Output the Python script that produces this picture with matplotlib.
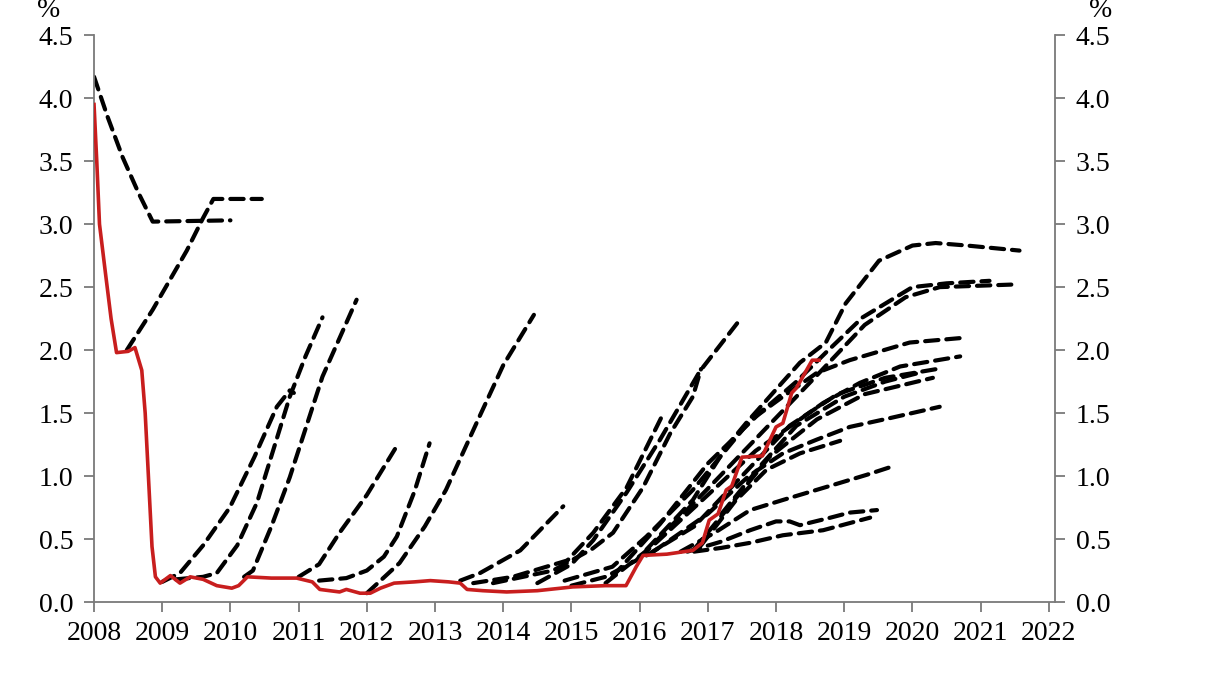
import matplotlib.pyplot as plt

# effective fed funds rate (red line)
ffr_year = [2008.0, 2008.04, 2008.08, 2008.17, 2008.25, 2008.33, 2008.5, 2008.6, 2008.7,
            2008.75, 2008.85, 2008.9, 2008.97, 2009.12, 2009.26, 2009.41, 2009.6, 2009.8,
            2010.02, 2010.12, 2010.25, 2010.6, 2010.97, 2011.2, 2011.31, 2011.6, 2011.7,
            2011.9, 2012.05, 2012.2, 2012.4, 2012.7, 2012.93, 2013.2, 2013.37, 2013.47,
            2013.7, 2014.05, 2014.5, 2015.02, 2015.5, 2015.8, 2015.95, 2016.05, 2016.4,
            2016.78, 2016.92, 2017.02, 2017.15, 2017.27, 2017.35, 2017.5, 2017.8, 2018.0,
            2018.1, 2018.23, 2018.3, 2018.53, 2018.63]
ffr_rate = [3.95, 3.5, 3.0, 2.6, 2.25, 1.98, 1.99, 2.02, 1.84,
            1.5, 0.44, 0.2, 0.15, 0.21, 0.15, 0.2, 0.18, 0.13,
            0.11, 0.13, 0.2, 0.19, 0.19, 0.16, 0.1, 0.08, 0.1,
            0.07, 0.07, 0.11, 0.15, 0.16, 0.17, 0.16, 0.15, 0.1,
            0.09, 0.08, 0.09, 0.12, 0.13, 0.13, 0.28, 0.37, 0.38,
            0.41, 0.47, 0.65, 0.7, 0.89, 0.92, 1.15, 1.16, 1.39,
            1.42, 1.66, 1.7, 1.92, 1.92]

# market-implied forward paths (dashed lines), (year, %) pairs
fwd_01 = [(2008.0, 4.17), (2008.2, 3.85), (2008.42, 3.53), (2008.65, 3.25), (2008.86, 3.02), (2010.0, 3.03)]
fwd_02 = [(2008.48, 2.0), (2008.86, 2.32), (2009.36, 2.79), (2009.6, 3.05), (2009.75, 3.2), (2010.46, 3.2)]
fwd_03 = [(2009.0, 0.16), (2009.26, 0.23), (2009.6, 0.45), (2009.99, 0.75), (2010.35, 1.15),
          (2010.68, 1.55), (2010.87, 1.68), (2010.93, 1.66)]
fwd_04 = [(2009.2, 0.18), (2009.6, 0.2), (2009.8, 0.23), (2010.1, 0.45), (2010.39, 0.79),
          (2010.87, 1.63), (2011.1, 1.95), (2011.35, 2.26)]
fwd_05 = [(2010.2, 0.2), (2010.33, 0.25), (2010.6, 0.6), (2010.87, 0.99), (2011.35, 1.79), (2011.85, 2.4)]
fwd_06 = [(2011.0, 0.2), (2011.3, 0.3), (2011.6, 0.55), (2012.0, 0.85), (2012.43, 1.23)]
fwd_07 = [(2011.3, 0.17), (2011.7, 0.19), (2012.0, 0.25), (2012.25, 0.36), (2012.44, 0.52),
          (2012.7, 0.88), (2012.92, 1.26)]
fwd_08 = [(2012.0, 0.07), (2012.48, 0.31), (2012.85, 0.6), (2013.16, 0.89), (2013.65, 1.47),
          (2014.0, 1.88), (2014.45, 2.28)]
fwd_09 = [(2013.37, 0.17), (2013.66, 0.23), (2014.25, 0.41), (2014.88, 0.76)]
fwd_10 = [(2013.56, 0.15), (2014.14, 0.2), (2014.94, 0.33), (2015.32, 0.55), (2015.81, 0.91), (2016.35, 1.5)]
fwd_11 = [(2013.85, 0.15), (2014.73, 0.25), (2015.3, 0.42), (2015.61, 0.55), (2016.05, 0.91),
          (2016.45, 1.34), (2016.78, 1.63), (2016.9, 1.85)]
fwd_12 = [(2014.5, 0.15), (2015.0, 0.3), (2015.32, 0.49), (2015.81, 0.87), (2016.3, 1.29),
          (2016.88, 1.83), (2017.44, 2.22)]
fwd_13 = [(2015.0, 0.13), (2015.5, 0.2), (2015.95, 0.33), (2016.78, 0.81), (2017.27, 1.23),
          (2017.56, 1.42), (2018.35, 1.9), (2018.73, 2.06), (2019.02, 2.37), (2019.51, 2.71),
          (2020.0, 2.83), (2020.34, 2.85), (2020.8, 2.83), (2021.57, 2.79)]
fwd_14 = [(2015.6, 0.2), (2016.3, 0.62), (2017.0, 1.1), (2017.76, 1.5), (2018.3, 1.75),
          (2018.73, 1.98), (2019.27, 2.26), (2020.0, 2.5), (2020.5, 2.53), (2021.13, 2.55)]
fwd_15 = [(2016.0, 0.35), (2017.0, 0.9), (2017.8, 1.35), (2018.6, 1.8), (2019.3, 2.2),
          (2019.9, 2.42), (2020.4, 2.5), (2021.45, 2.52)]
fwd_16 = [(2014.9, 0.17), (2015.6, 0.28), (2016.1, 0.52), (2016.78, 0.89), (2017.62, 1.44),
          (2018.1, 1.63), (2018.6, 1.82), (2019.08, 1.92), (2019.96, 2.06), (2020.8, 2.1)]
fwd_17 = [(2015.5, 0.15), (2016.2, 0.45), (2017.0, 0.85), (2017.7, 1.2), (2018.69, 1.58),
          (2019.23, 1.74), (2019.82, 1.87), (2020.7, 1.95)]
fwd_18 = [(2016.1, 0.37), (2016.8, 0.6), (2017.5, 1.0), (2018.2, 1.4), (2018.9, 1.65),
          (2019.6, 1.78), (2020.36, 1.85)]
fwd_19 = [(2016.8, 0.42), (2017.3, 0.75), (2017.9, 1.15), (2018.6, 1.45), (2019.3, 1.65), (2020.3, 1.78)]
fwd_20 = [(2017.2, 0.7), (2017.8, 1.1), (2018.3, 1.4), (2019.0, 1.63), (2019.6, 1.75), (2020.1, 1.82)]
fwd_21 = [(2016.2, 0.4), (2017.0, 0.7), (2017.6, 1.0), (2018.1, 1.18), (2018.6, 1.29),
          (2019.08, 1.39), (2019.67, 1.46), (2020.4, 1.55)]
fwd_22 = [(2016.9, 0.45), (2017.4, 0.8), (2017.86, 1.05), (2018.35, 1.18), (2018.94, 1.28)]
fwd_23 = [(2016.6, 0.4), (2017.1, 0.55), (2017.62, 0.73), (2018.1, 0.81), (2018.84, 0.93),
          (2019.33, 1.01), (2019.67, 1.07)]
fwd_24 = [(2016.7, 0.4), (2017.2, 0.48), (2017.62, 0.57), (2018.0, 0.64), (2018.2, 0.64),
          (2018.35, 0.61), (2018.8, 0.67), (2019.08, 0.71), (2019.48, 0.73)]
fwd_25 = [(2016.8, 0.4), (2017.2, 0.43), (2017.62, 0.47), (2018.1, 0.53), (2018.69, 0.57), (2019.38, 0.67)]

forward_paths = [fwd_01, fwd_02, fwd_03, fwd_04, fwd_05, fwd_06, fwd_07, fwd_08, fwd_09,
                 fwd_10, fwd_11, fwd_12, fwd_13, fwd_14, fwd_15, fwd_16, fwd_17, fwd_18,
                 fwd_19, fwd_20, fwd_21, fwd_22, fwd_23, fwd_24, fwd_25]

year_ticks = list(range(2008, 2023))
pct_ticks = [0.0, 0.5, 1.0, 1.5, 2.0, 2.5, 3.0, 3.5, 4.0, 4.5]

plt.rcParams["font.family"] = ["Liberation Serif", "DejaVu Serif"]
grey = "#7a7a7a"

fig = plt.figure(figsize=(12.26, 6.9), dpi=100)
ax = fig.add_axes([0.0767, 0.1275, 0.7838, 0.8215])

for path in forward_paths:
    xs = [p[0] for p in path]
    ys = [p[1] for p in path]
    ax.plot(xs, ys, color="black", linewidth=3.0, linestyle=(0, (3.2, 1.9)),
            dash_capstyle="round", dash_joinstyle="round")

ax.plot(ffr_year, ffr_rate, color="#c81e1e", linewidth=2.6, zorder=5,
        solid_joinstyle="round")

ax.set_xlim(2008, 2022.09)
ax.set_ylim(0, 4.5)
ax.set_xticks(year_ticks)
ax.set_xticklabels([str(y) for y in year_ticks])
ax.set_yticks(pct_ticks)
ax.set_yticklabels(["%.1f" % v for v in pct_ticks])

for side in ["left", "right", "bottom"]:
    ax.spines[side].set_color(grey)
    ax.spines[side].set_linewidth(1.3)
ax.spines["top"].set_visible(False)

ax.tick_params(axis="x", direction="out", length=7, width=1.3, color=grey,
               labelsize=20, pad=7)
ax.tick_params(axis="y", direction="out", length=7, width=1.3, color=grey,
               labelsize=20, pad=8, left=True, right=True, labelleft=True, labelright=True)

fig.text(0.040, 0.985, "%", fontsize=20, ha="center", va="center")
fig.text(0.898, 0.985, "%", fontsize=20, ha="center", va="center")

fig.savefig("out.png", dpi=100)
